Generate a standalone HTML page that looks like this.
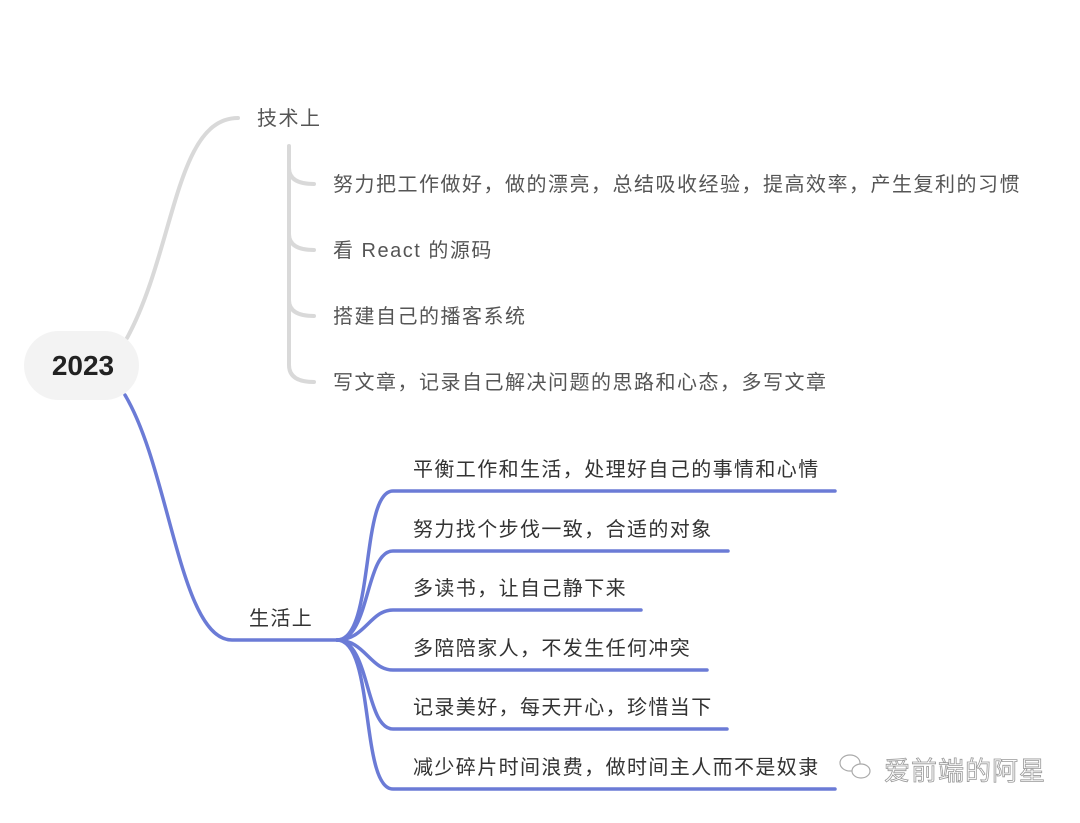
<!DOCTYPE html>
<html><head><meta charset="utf-8"><style>
html,body{margin:0;padding:0;background:#fff;}
svg text{font-family:"Liberation Sans","Noto Sans CJK SC",sans-serif;}
</style></head><body>
<svg width="1080" height="818" viewBox="0 0 1080 818" xmlns="http://www.w3.org/2000/svg">
<rect width="1080" height="818" fill="#fff"/>
<path d="M127,338 C175,250 175,118 238,118" fill="none" stroke="#d9d9d9" stroke-width="4" stroke-linecap="round"/>
<path d="M289,146 L289,365 Q289,382 314,382" fill="none" stroke="#d9d9d9" stroke-width="4" stroke-linecap="round"/>
<path d="M289,168 Q289,184 314,184 M289,234 Q289,250 314,250 M289,300 Q289,316 314,316" fill="none" stroke="#d9d9d9" stroke-width="4" stroke-linecap="round"/>
<g font-size="20" fill="#555" letter-spacing="1.5">
<text x="257" y="125">技术上</text>
<text x="333" y="191">努力把工作做好，做的漂亮，总结吸收经验，提高效率，产生复利的习惯</text>
<text x="333" y="257">看 React 的源码</text>
<text x="333" y="323">搭建自己的播客系统</text>
<text x="333" y="389">写文章，记录自己解决问题的思路和心态，多写文章</text>
</g>
<g fill="none" stroke="#6b7bd6" stroke-width="3.5" stroke-linecap="round">
<path d="M125,395 C170,470 180,640 232,640 L337,640"/>
<path d="M337,640 C375,640 360,491 393,491 L835,491"/>
<path d="M337,640 C370,640 365,551 393,551 L728,551"/>
<path d="M337,640 C365,640 370,610 393,610 L641,610"/>
<path d="M337,640 C365,640 370,670 393,670 L707,670"/>
<path d="M337,640 C370,640 365,729 393,729 L727,729"/>
<path d="M337,640 C375,640 360,789 393,789 L835,789"/>
</g>
<g font-size="20" fill="#333" letter-spacing="1.4">
<text x="249" y="625">生活上</text>
<text x="413" y="476">平衡工作和生活，处理好自己的事情和心情</text>
<text x="413" y="536">努力找个步伐一致，合适的对象</text>
<text x="413" y="595">多读书，让自己静下来</text>
<text x="413" y="655">多陪陪家人，不发生任何冲突</text>
<text x="413" y="714">记录美好，每天开心，珍惜当下</text>
<text x="413" y="774">减少碎片时间浪费，做时间主人而不是奴隶</text>
</g>
<rect x="24" y="331" width="115" height="69" rx="34.5" fill="#f3f3f3"/>
<text x="83" y="375" font-size="28" font-weight="bold" fill="#222" text-anchor="middle">2023</text>
<g fill="#fff" stroke="#aaa" stroke-width="1.2">
<ellipse cx="850" cy="763" rx="10" ry="8"/>
<ellipse cx="861" cy="771" rx="9" ry="7"/>
</g>
<text x="884" y="780" font-size="26" fill="#fff" stroke="#999" stroke-width="0.8" letter-spacing="1">爱前端的阿星</text>
</svg>
</body></html>
